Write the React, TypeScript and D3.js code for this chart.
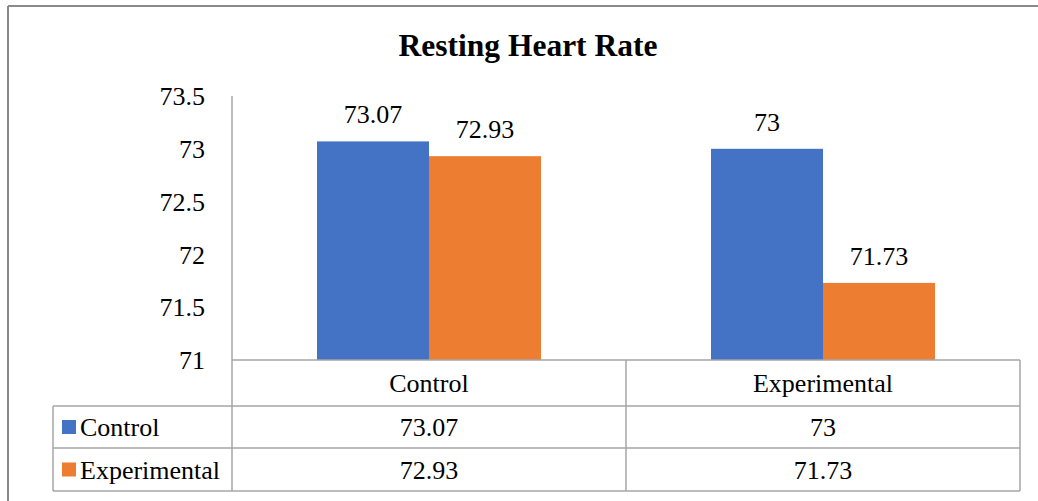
import React, { useEffect, useRef } from 'react';
import * as d3 from 'd3';

const categories = ['Control', 'Experimental'];
const seriesNames = ['Control', 'Experimental'];
const controlValues = [73.07, 73];
const experimentalValues = [72.93, 71.73];
const yTicks = [71, 71.5, 72, 72.5, 73, 73.5];
const colors = ['#4472C4', '#ED7D31'];

const FONT = "'Liberation Serif', 'DejaVu Serif', serif";

export default function App() {
    const ref = useRef<SVGSVGElement>(null);

    useEffect(() => {
        const svg = d3.select(ref.current)
            .style('font-family', FONT)
            .style('font-weight', '400');
        svg.selectAll('*').remove();

        const series = [controlValues, experimentalValues];
        const left = 232, right = 1020, top = 96, base = 360;
        const tableLeft = 53;
        const rowEdges = [base, 406, 448, 491];

        const y = d3.scaleLinear().domain([71, 73.5]).range([base, top]);
        const x0 = d3.scaleBand().domain(categories).range([left, right]);
        const x1 = d3.scaleBand()
            .domain(seriesNames)
            .range([85, x0.bandwidth() - 85]);

        // outer frame (only top + left visible in the crop)
        svg.append('line')
            .attr('x1', 8).attr('x2', 1038).attr('y1', 6).attr('y2', 6)
            .attr('stroke', '#8a8a8a').attr('stroke-width', 2);
        svg.append('line')
            .attr('x1', 8).attr('x2', 8).attr('y1', 6).attr('y2', 501)
            .attr('stroke', '#8a8a8a').attr('stroke-width', 2);

        svg.append('text')
            .attr('x', 528).attr('y', 56)
            .attr('text-anchor', 'middle')
            .style('font-weight', '700')
            .style('font-size', '31.5px')
            .text('Resting Heart Rate');

        // y tick labels
        svg.selectAll('.ytick')
            .data(yTicks)
            .enter()
            .append('text')
            .attr('x', 205)
            .attr('y', d => y(d))
            .attr('dy', '0.35em')
            .attr('text-anchor', 'end')
            .style('font-size', '26px')
            .attr('fill', '#000')
            .text(d => d);

        // bars + value labels
        series.forEach((vals, si) => {
            const g = svg.append('g');
            g.selectAll('rect')
                .data(vals)
                .enter()
                .append('rect')
                .attr('x', (d, i) => (x0(categories[i]) as number) + (x1(seriesNames[si]) as number))
                .attr('y', d => y(d))
                .attr('width', x1.bandwidth())
                .attr('height', d => base - y(d))
                .attr('fill', colors[si]);
            g.selectAll('text')
                .data(vals)
                .enter()
                .append('text')
                .attr('x', (d, i) => (x0(categories[i]) as number) + (x1(seriesNames[si]) as number) + x1.bandwidth() / 2)
                .attr('y', d => y(d) - 18)
                .attr('text-anchor', 'middle')
                .style('font-size', '26px')
                .attr('fill', '#000')
                .text(d => d);
        });

        // data table grid
        const grid = svg.append('g').attr('stroke', '#a6a6a6').attr('stroke-width', 1.5);
        grid.append('line').attr('x1', left).attr('x2', left).attr('y1', top).attr('y2', rowEdges[3]);
        categories.forEach(c => {
            const xe = (x0(c) as number) + x0.bandwidth();
            grid.append('line').attr('x1', xe).attr('x2', xe).attr('y1', base).attr('y2', rowEdges[3]);
        });
        grid.append('line').attr('x1', tableLeft).attr('x2', tableLeft).attr('y1', rowEdges[1]).attr('y2', rowEdges[3]);
        rowEdges.forEach((ry, i) => {
            grid.append('line')
                .attr('x1', i === 0 ? left : tableLeft).attr('x2', right)
                .attr('y1', ry).attr('y2', ry);
        });

        // header row (categories)
        categories.forEach(c => {
            svg.append('text')
                .attr('x', (x0(c) as number) + x0.bandwidth() / 2)
                .attr('y', (rowEdges[0] + rowEdges[1]) / 2)
                .attr('dy', '0.35em')
                .attr('text-anchor', 'middle')
                .style('font-size', '26px')
                .attr('fill', '#000')
                .text(c);
        });

        // series rows
        series.forEach((vals, si) => {
            const cy = (rowEdges[si + 1] + rowEdges[si + 2]) / 2;
            svg.append('rect')
                .attr('x', 62).attr('y', cy - 7)
                .attr('width', 14).attr('height', 14)
                .attr('fill', colors[si]);
            svg.append('text')
                .attr('x', 80).attr('y', cy)
                .attr('dy', '0.35em')
                .style('font-size', '26px')
                .attr('fill', '#000')
                .text(seriesNames[si]);
            vals.forEach((v, i) => {
                svg.append('text')
                    .attr('x', (x0(categories[i]) as number) + x0.bandwidth() / 2)
                    .attr('y', cy)
                    .attr('dy', '0.35em')
                    .attr('text-anchor', 'middle')
                    .style('font-size', '26px')
                    .attr('fill', '#000')
                    .text(v);
            });
        });
    }, []);

    return (
        <svg ref={ref} width={1038} height={501}
            style={{ position: 'absolute', left: 0, top: 0, background: '#fff' }} />
    );
}
